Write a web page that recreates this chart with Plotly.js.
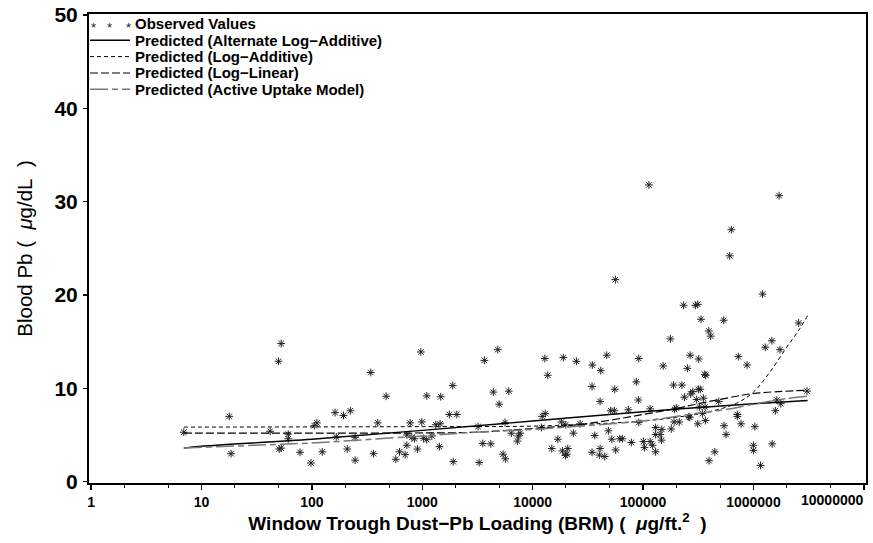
<!DOCTYPE html>
<html>
<head>
<meta charset="utf-8">
<script src="https://cdn.plot.ly/plotly-3.0.1.min.js"></script>
<style>html,body{margin:0;padding:0;background:#fff}#chart{width:873px;height:543px}</style>
</head>
<body>
<div id="chart"></div>
<script>
// Observed values (dust-Pb loading, blood Pb)
const obsX = [52.6,49.8,17.8,6.9,41.8,61,61,52.6,50.5,18.5,78,98,124,111,105,162,193,223,166,246,209,246,341,470,395,361,575,621,699,724,724,776,804,849,904,969,989,1023,1097,1097,1219,1325,1429,1449,1469,1758,1888,2054,1907,
113000,1710000,631000,610000,56100,1210000,233000,298000,313000,335000,538000,2570000,394000,410000,177000,1470000,1280000,1740000,4830,3650,46900,267000,91400,12900,18950,24900,319000,730000,34700,41400,152000,252000,875000,13700,362000,370000,189000,225000,86900,34500,55400,4400,6070,282000,317000,330000,270000,237000,4970,40800,90700,306000,352000,485000,1630000,1770000,3060000,1580000,116000,50900,55000,73600,193000,200000,324000,365000,13000,12200,5620,91400,18200,26900,191000,213000,259000,265000,345000,367000,313000,715000,715000,772000,542000,565000,1030000,12000,3200,6410,7690,7420,7270,23400,36500,48500,130000,148000,130000,143000,180000,16900,52100,61500,65000,78400,100700,116000,122000,147000,3530,4170,14900,18600,20800,20400,19800,34500,40800,40200,45000,56500,103000,130000,5390,5660,3270,446000,396000,1000000,1000000,1160000,1480000,19950];
const obsY = [14.8,12.9,7.0,5.3,5.4,5.1,4.6,3.6,3.5,3.0,3.15,2.0,3.2,6.3,6.0,7.4,7.1,7.6,4.8,4.75,3.5,2.3,11.7,9.15,6.3,3.0,2.4,3.2,2.9,3.9,5.0,6.3,4.75,4.6,3.5,13.9,6.4,4.65,4.5,9.2,4.9,6.1,3.75,6.2,9.1,7.2,10.3,7.2,2.15,
31.8,30.65,27.0,24.2,21.65,20.1,18.9,18.9,19.0,17.4,17.3,17.0,16.15,15.6,15.3,15.1,14.4,14.15,14.15,13.0,13.55,13.55,13.2,13.2,13.3,12.9,13.15,13.4,12.5,11.9,12.4,12.15,12.5,11.4,11.5,11.4,10.35,10.35,10.7,10.2,9.9,9.6,9.7,9.65,9.9,9.9,9.4,9.05,8.3,8.6,8.75,8.8,8.95,8.6,8.75,8.35,9.7,7.6,7.8,7.6,7.6,7.7,7.75,7.9,8.0,8.0,7.3,7.0,6.35,6.35,6.4,6.2,6.4,6.4,6.95,6.9,7.3,6.55,6.2,7.2,7.0,6.2,6.0,5.05,5.9,5.8,5.9,5.2,5.2,4.9,4.35,5.2,4.95,5.45,5.8,5.6,5.05,5.05,5.65,4.55,4.55,4.6,4.6,4.2,4.3,4.3,3.9,4.45,4.1,4.05,3.55,3.3,3.55,2.95,2.8,3.15,3.55,2.85,2.7,3.4,3.65,3.2,2.95,2.45,2.05,3.2,2.25,3.9,3.35,1.75,4.05,6.1];

// Predicted curves
const altX = [6.9,10,100,1000,10000,100000,1000000,3100000];
const altY = [3.6,3.8,4.55,5.5,6.5,7.5,8.35,8.7];

const addX = [6.9,100,1000,10000,30000,100000,200000,400000,700000,1000000,1400000,2000000,2600000,3100000];
const addY = [5.85,5.87,5.9,5.95,6.15,6.5,6.9,7.5,8.4,9.6,11.7,14.4,16.3,17.8];

const linX = [6.9,100,1000,3000,10000,30000,100000,200000,300000,600000,1000000,3100000];
const linY = [5.2,5.2,5.22,5.3,5.7,6.2,7.2,7.85,8.3,9.0,9.45,9.8];

const actX = [6.9,30,100,300,1000,3000,10000,30000,100000,300000,540000,1000000,2000000,3100000];
const actY = [3.6,3.9,4.15,4.5,4.9,5.3,5.6,6.0,6.5,7.3,7.7,8.3,8.9,9.15];

const seriesNames = ['Observed Values','Predicted (Alternate Log\u2212Additive)','Predicted (Log\u2212Additive)','Predicted (Log\u2212Linear)','Predicted (Active Uptake Model)'];

const NB = '\u00a0';
const xTicks = [1,10,100,1000,10000,100000,1000000,10000000];
const xTickText = ['1','10','100','1000','10000','100000','1000000',''];
const lastTickLabel = '10000000';
const yTicks = [0,10,20,30,40,50];

const FONT = 'Liberation Sans, Arial, Helvetica, sans-serif';

const styles = [
  null,
  {color: '#000', width: 1.4},
  {color: '#000', width: 1, dash: '4px,3px'},
  {color: '#000', width: 1.2, dash: '8px,3px'},
  {color: '#777', width: 1.5, dash: '18px,4px,6px,4px'}
];

const traces = [
  {x: obsX, y: obsY, mode: 'markers', type: 'scatter', name: seriesNames[0],
   marker: {symbol: 'asterisk-open', size: 6.5, color: '#222', line: {color: '#222', width: 1}}},
  {x: altX, y: altY, mode: 'lines', type: 'scatter', name: seriesNames[1], line: Object.assign({shape: 'spline'}, styles[1])},
  {x: addX, y: addY, mode: 'lines', type: 'scatter', name: seriesNames[2], line: Object.assign({shape: 'spline'}, styles[2])},
  {x: linX, y: linY, mode: 'lines', type: 'scatter', name: seriesNames[3], line: Object.assign({shape: 'spline'}, styles[3])},
  {x: actX, y: actY, mode: 'lines', type: 'scatter', name: seriesNames[4], line: Object.assign({shape: 'spline'}, styles[4])}
];

// Manual legend (pixel layout converted to paper coordinates)
const M = {l: 89, r: 7, t: 14, b: 60};
const W = 873, H = 543;
const PW = W - M.l - M.r, PH = H - M.t - M.b;
const px = v => (v - M.l) / PW;
const py = v => (H - M.b - v) / PH;
const rowY = [24, 40.3, 56.6, 73, 89.3];
const shapes = [], annotations = [];
seriesNames.forEach((n, i) => {
  annotations.push({xref: 'paper', yref: 'paper', x: px(133), y: py(rowY[i]), xanchor: 'left', yanchor: 'middle',
    text: n, showarrow: false, font: {family: FONT, size: 15, color: '#000', weight: 'bold'}});
  if (i === 0) {
    [93, 109, 128].forEach(sx => {
      annotations.push({xref: 'paper', yref: 'paper', x: px(sx), y: py(rowY[i] + 3), xanchor: 'center', yanchor: 'middle',
        text: '*', showarrow: false, font: {family: FONT, size: 13, color: '#222'}});
    });
  } else {
    shapes.push({type: 'line', xref: 'paper', yref: 'paper', x0: px(90), x1: px(130), y0: py(rowY[i]), y1: py(rowY[i]),
      line: styles[i]});
  }
});
// last x tick label, shifted left to stay inside the figure like the reference
annotations.push({xref: 'paper', yref: 'paper', x: px(866), y: py(500), xanchor: 'right', yanchor: 'middle',
  text: lastTickLabel, showarrow: false, font: {family: FONT, size: 14, color: '#000', weight: 'bold'}});

const layout = {
  width: W, height: H,
  margin: M,
  paper_bgcolor: '#fff', plot_bgcolor: '#fff',
  font: {family: FONT, color: '#000'},
  showlegend: false,
  shapes: shapes,
  annotations: annotations,
  xaxis: {type: 'log', range: [-0.02, 7.02], tickvals: xTicks, ticktext: xTickText,
          ticks: 'outside', ticklen: 5, tickwidth: 1.5, tickcolor: '#000',
          minor: {ticks: 'outside', ticklen: 3, tickcolor: '#000', tickwidth: 1, showgrid: false},
          showline: true, linecolor: '#000', linewidth: 2, mirror: true,
          showgrid: false, zeroline: false, ticklabelstandoff: 0,
          tickfont: {family: FONT, size: 14, color: '#000', weight: 'bold'},
          title: {text: 'Window Trough Dust\u2212Pb Loading (BRM) (' + NB + ' <i>\u03bc</i>g/ft.<sup>2</sup>' + NB + ' )', standoff: 6,
                  font: {family: FONT, size: 19, color: '#000', weight: 'bold'}}},
  yaxis: {range: [-0.14, 50.11], tickvals: yTicks, ticks: 'outside', ticklen: 4, tickwidth: 1.5, tickcolor: '#000',
          showline: true, linecolor: '#000', linewidth: 2, mirror: true,
          showgrid: false, zeroline: false, ticklabelstandoff: 1,
          tickfont: {family: FONT, size: 21, color: '#000', weight: 'bold'},
          title: {text: 'Blood Pb (' + NB + ' <i>\u03bc</i>g/dL' + NB + ' )', standoff: 16,
                  font: {family: FONT, size: 20.5, color: '#000'}}}
};

Plotly.newPlot('chart', traces, layout, {displayModeBar: false, staticPlot: true});
</script>
</body>
</html>
